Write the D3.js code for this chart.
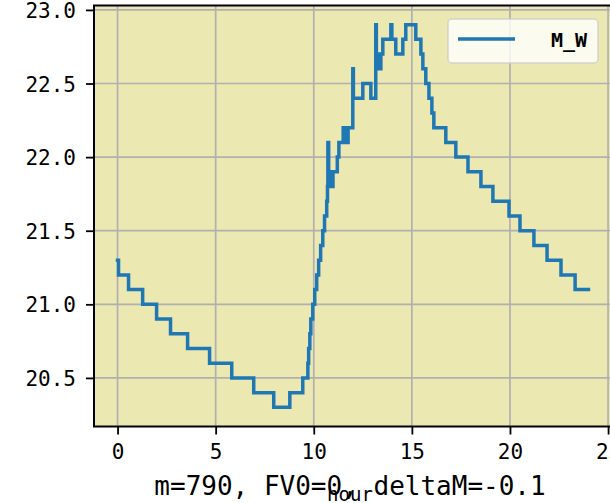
<!DOCTYPE html>
<html>
<head>
<meta charset="utf-8">
<script src="https://cdn.jsdelivr.net/npm/d3@7"></script>
<style>
  html, body { margin: 0; padding: 0; background: #ffffff; }
  svg { display: block; }
</style>
</head>
<body>
<svg id="chart" width="610" height="503"></svg>
<script>
// ---- data (step series, value holds until next hour) ----
const hours = [0.00, 0.05, 0.56, 1.28, 1.99, 2.70, 3.57, 4.69, 5.82, 6.94, 7.96, 8.78, 9.44,
  9.70, 9.74, 9.80, 9.85, 9.95, 10.05, 10.15, 10.25, 10.35, 10.46, 10.55, 10.66, 10.70, 10.72,
  10.76, 10.82, 10.90, 10.98, 11.20, 11.28, 11.50, 11.55, 11.60, 11.65, 11.75, 11.99, 12.02,
  12.50, 12.91, 13.16, 13.19, 13.30, 13.35, 13.42, 13.52, 13.93, 13.98, 14.18, 14.54, 14.69,
  15.20, 15.46, 15.56, 15.71, 15.87, 16.02, 16.12, 16.73, 17.24, 17.86, 18.52, 19.13, 19.95,
  20.51, 21.22, 21.89, 22.60, 23.32, 24.00];
const mW = [21.3, 21.2, 21.1, 21.0, 20.9, 20.8, 20.7, 20.6, 20.5, 20.4, 20.3, 20.4, 20.5,
  20.6, 20.7, 20.8, 20.9, 21.0, 21.1, 21.2, 21.3, 21.4, 21.5, 21.6, 21.7, 21.8, 22.1,
  21.8, 21.9, 21.8, 21.9, 22.0, 22.1, 22.2, 22.1, 22.2, 22.1, 22.2, 22.6, 22.4,
  22.5, 22.4, 22.9, 22.6, 22.7, 22.6, 22.7, 22.8, 22.9, 22.8, 22.7, 22.8, 22.9,
  22.8, 22.7, 22.6, 22.5, 22.4, 22.3, 22.2, 22.1, 22.0, 21.9, 21.8, 21.7, 21.6,
  21.5, 21.4, 21.3, 21.2, 21.1, 21.1];
const xTicks = [0, 5, 10, 15, 20, 25];
const yTicks = [20.5, 21.0, 21.5, 22.0, 22.5, 23.0];
const seriesName = "M_W";
const xLabel = "hour";
const infoText = "m=790, FV0=0, deltaM=-0.1";

// ---- layout ----
const L = 94, T = 5.5, R = 612, B = 426.5;
const svg = d3.select("#chart");
const x = d3.scaleLinear().domain([-1.2, 25.2]).range([L, R]);
const y = d3.scaleLinear().domain([20.17, 23.03]).range([B, T]);

const mono = "'DejaVu Sans Mono', 'Liberation Mono', monospace";

// plot background
svg.append("rect").attr("x", L).attr("y", T).attr("width", R - L).attr("height", B - T)
  .attr("fill", "#ECE8B1");

// grid
const grid = svg.append("g").attr("stroke", "#b0b0b0").attr("stroke-width", 1.7);
xTicks.forEach(t => grid.append("line").attr("x1", x(t)).attr("x2", x(t)).attr("y1", T).attr("y2", B));
yTicks.forEach(t => grid.append("line").attr("x1", L).attr("x2", R).attr("y1", y(t)).attr("y2", y(t)));

// line
const pts = hours.map((h, i) => [h, mW[i]]);
const line = d3.line().x(d => x(d[0])).y(d => y(d[1])).curve(d3.curveStepAfter);
svg.append("path").datum(pts).attr("d", line).attr("fill", "none")
  .attr("stroke", "#1f77b4").attr("stroke-width", 3.5).attr("stroke-linejoin", "miter")
  .attr("stroke-linecap", "square");

// axes
const xAxis = d3.axisBottom(x).tickValues(xTicks).tickFormat(d3.format("d"))
  .tickSize(8).tickPadding(7);
const yAxis = d3.axisLeft(y).tickValues(yTicks).tickFormat(d3.format(".1f"))
  .tickSize(8).tickPadding(10);
const gx = svg.append("g").attr("transform", `translate(0,${B})`).call(xAxis);
const gy = svg.append("g").attr("transform", `translate(${L},0)`).call(yAxis);
[gx, gy].forEach(g => {
  g.select(".domain").remove();
  g.selectAll(".tick line").attr("stroke", "#000").attr("stroke-width", 1.8);
  g.selectAll(".tick text").attr("fill", "#000").attr("font-family", mono).attr("font-size", 21);
});
gx.selectAll(".tick text").attr("dy", "0.85em");
gy.selectAll(".tick text").attr("dy", "0.36em");

// spines
svg.append("rect").attr("x", L).attr("y", T).attr("width", R - L).attr("height", B - T)
  .attr("fill", "none").attr("stroke", "#000").attr("stroke-width", 2);

// x label and info text
svg.append("text").attr("x", 350).attr("y", 495).attr("text-anchor", "middle")
  .attr("font-family", mono).attr("font-size", 26).attr("fill", "#000").text(infoText);
svg.append("text").attr("x", 350).attr("y", 501).attr("text-anchor", "middle")
  .attr("font-family", mono).attr("font-size", 19).attr("fill", "#000").text(xLabel);

// legend
const lg = svg.append("g");
lg.append("rect").attr("x", 448).attr("y", 19).attr("width", 150).attr("height", 44)
  .attr("rx", 4).attr("fill", "#ffffff").attr("fill-opacity", 0.8)
  .attr("stroke", "#cccccc").attr("stroke-opacity", 0.8).attr("stroke-width", 1.5);
lg.append("line").attr("x1", 458).attr("x2", 515).attr("y1", 39).attr("y2", 39)
  .attr("stroke", "#1f77b4").attr("stroke-width", 3.5);
lg.append("text").attr("x", 587).attr("y", 47).attr("text-anchor", "end")
  .attr("font-family", mono).attr("font-weight", "bold").attr("font-size", 20)
  .attr("fill", "#000").text(seriesName);
</script>
</body>
</html>
